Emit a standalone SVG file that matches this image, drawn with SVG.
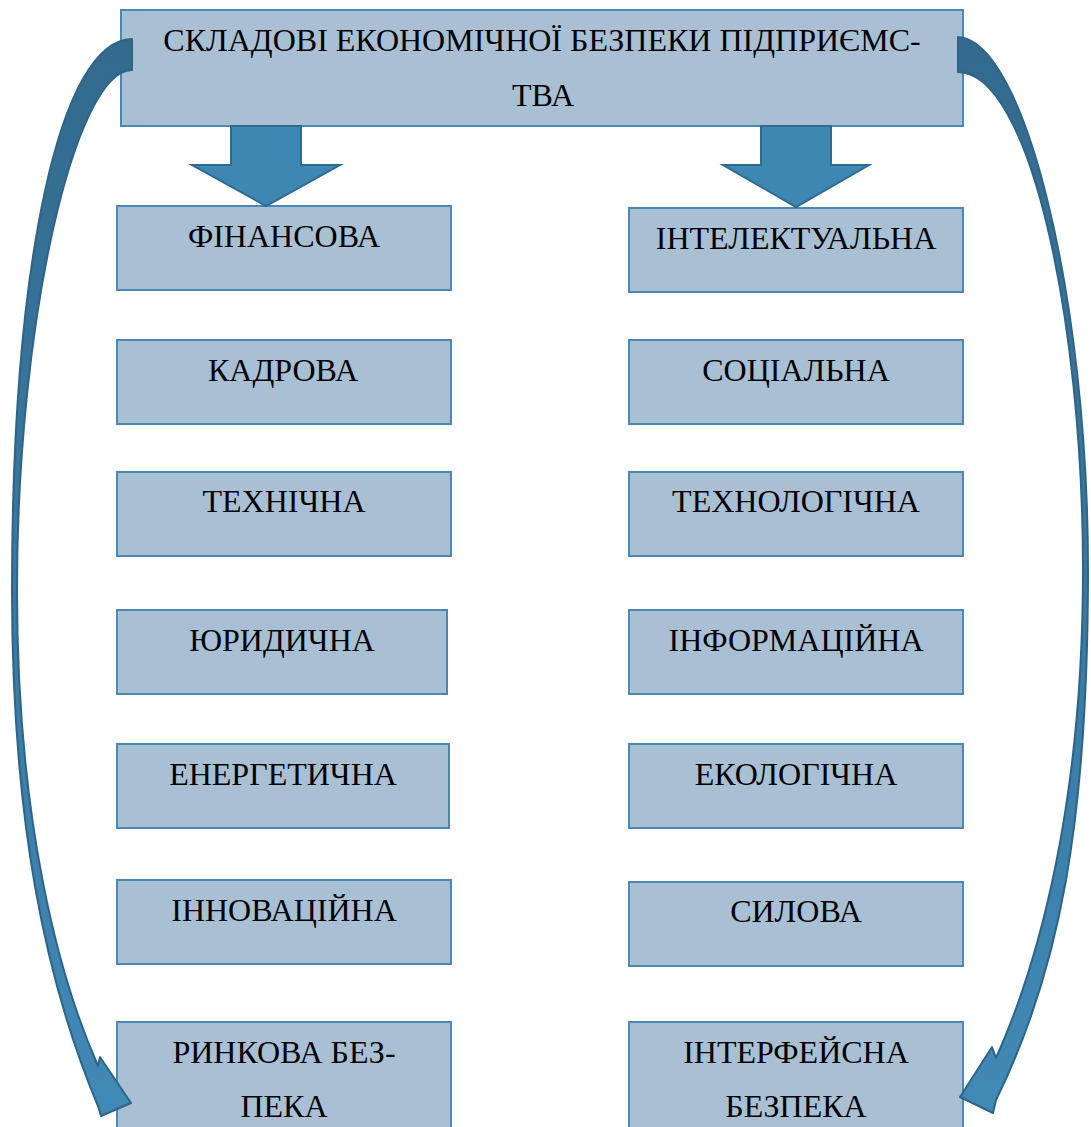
<svg xmlns="http://www.w3.org/2000/svg" width="1091" height="1127" viewBox="0 0 1091 1127">
<style>
.box{fill:#a8bfd4;stroke:#4b88b5;stroke-width:2}
.t{font-family:"Liberation Serif","Times New Roman",serif;font-size:32px;fill:#000;text-anchor:middle}
.down{fill:#3f87b3;stroke:#2f6a90;stroke-width:2;stroke-linejoin:miter}
.curve{stroke:#2e6488;stroke-width:2;stroke-linejoin:round}
</style>
<defs>
<linearGradient id="cg" x1="0" y1="0" x2="0" y2="1">
<stop offset="0" stop-color="#336a8d"/>
<stop offset="0.6" stop-color="#3a7ca6"/>
<stop offset="1" stop-color="#4189b6"/>
</linearGradient>
</defs>
<g id="root">
<rect class="box" x="121" y="10" width="842" height="116"/>
<text class="t" x="542" y="51">СКЛАДОВІ ЕКОНОМІЧНОЇ БЕЗПЕКИ ПІДПРИЄМС-</text>
<text class="t" x="543" y="106">ТВА</text>
</g>
<g id="n-finansova"><rect class="box" x="117" y="206" width="334" height="84"/><text class="t" x="284" y="247">ФІНАНСОВА</text></g>
<g id="n-kadrova"><rect class="box" x="117" y="340" width="334" height="84"/><text class="t" x="283" y="381">КАДРОВА</text></g>
<g id="n-tekhnichna"><rect class="box" x="117" y="472" width="334" height="84"/><text class="t" x="284" y="512">ТЕХНІЧНА</text></g>
<g id="n-yurydychna"><rect class="box" x="117" y="610" width="330" height="84"/><text class="t" x="282" y="651">ЮРИДИЧНА</text></g>
<g id="n-enerhetychna"><rect class="box" x="117" y="744" width="332" height="84"/><text class="t" x="283" y="785">ЕНЕРГЕТИЧНА</text></g>
<g id="n-innovatsiyna"><rect class="box" x="117" y="880" width="334" height="84"/><text class="t" x="284" y="921">ІННОВАЦІЙНА</text></g>
<g id="n-rynkova"><rect class="box" x="117" y="1022" width="334" height="115"/><text class="t" x="284" y="1063">РИНКОВА БЕЗ-</text><text class="t" x="284" y="1117">ПЕКА</text></g>
<g id="n-intelektualna"><rect class="box" x="629" y="208" width="334" height="84"/><text class="t" x="796" y="249">ІНТЕЛЕКТУАЛЬНА</text></g>
<g id="n-sotsialna"><rect class="box" x="629" y="340" width="334" height="84"/><text class="t" x="796" y="381">СОЦІАЛЬНА</text></g>
<g id="n-tekhnolohichna"><rect class="box" x="629" y="472" width="334" height="84"/><text class="t" x="796" y="512">ТЕХНОЛОГІЧНА</text></g>
<g id="n-informatsiyna"><rect class="box" x="629" y="610" width="334" height="84"/><text class="t" x="796" y="651">ІНФОРМАЦІЙНА</text></g>
<g id="n-ekolohichna"><rect class="box" x="629" y="744" width="334" height="84"/><text class="t" x="796" y="785">ЕКОЛОГІЧНА</text></g>
<g id="n-sylova"><rect class="box" x="629" y="882" width="334" height="84"/><text class="t" x="796" y="922">СИЛОВА</text></g>
<g id="n-interfeysna"><rect class="box" x="629" y="1022" width="334" height="115"/><text class="t" x="796" y="1063">ІНТЕРФЕЙСНА</text><text class="t" x="796" y="1117">БЕЗПЕКА</text></g>
<g id="connectors">
<path class="curve" fill="url(#cg)" d="M132,39 C60,40 12,260 12,590 C12,820 45,980 98,1106 L101,1116 L131,1103 L100,1057 L98,1066 C58,975 17,820 17,590 C17,320 75,70 132,70 Z"/>
<path class="curve" fill="url(#cg)" d="M958,37 C1025,40 1088,300 1088,570 C1088,820 1060,970 996,1100 L993,1113 L960,1097 L992,1047 L996,1058 C1040,960 1083,800 1083,570 C1083,320 1030,72 958,72 Z"/>
<path class="down" d="M231,126 L301,126 L301,165 L340,165 L266,206 L192,165 L231,165 Z"/>
<path class="down" d="M761,126 L831,126 L831,165 L869,165 L796,207 L723,165 L761,165 Z"/>
</g>
</svg>
